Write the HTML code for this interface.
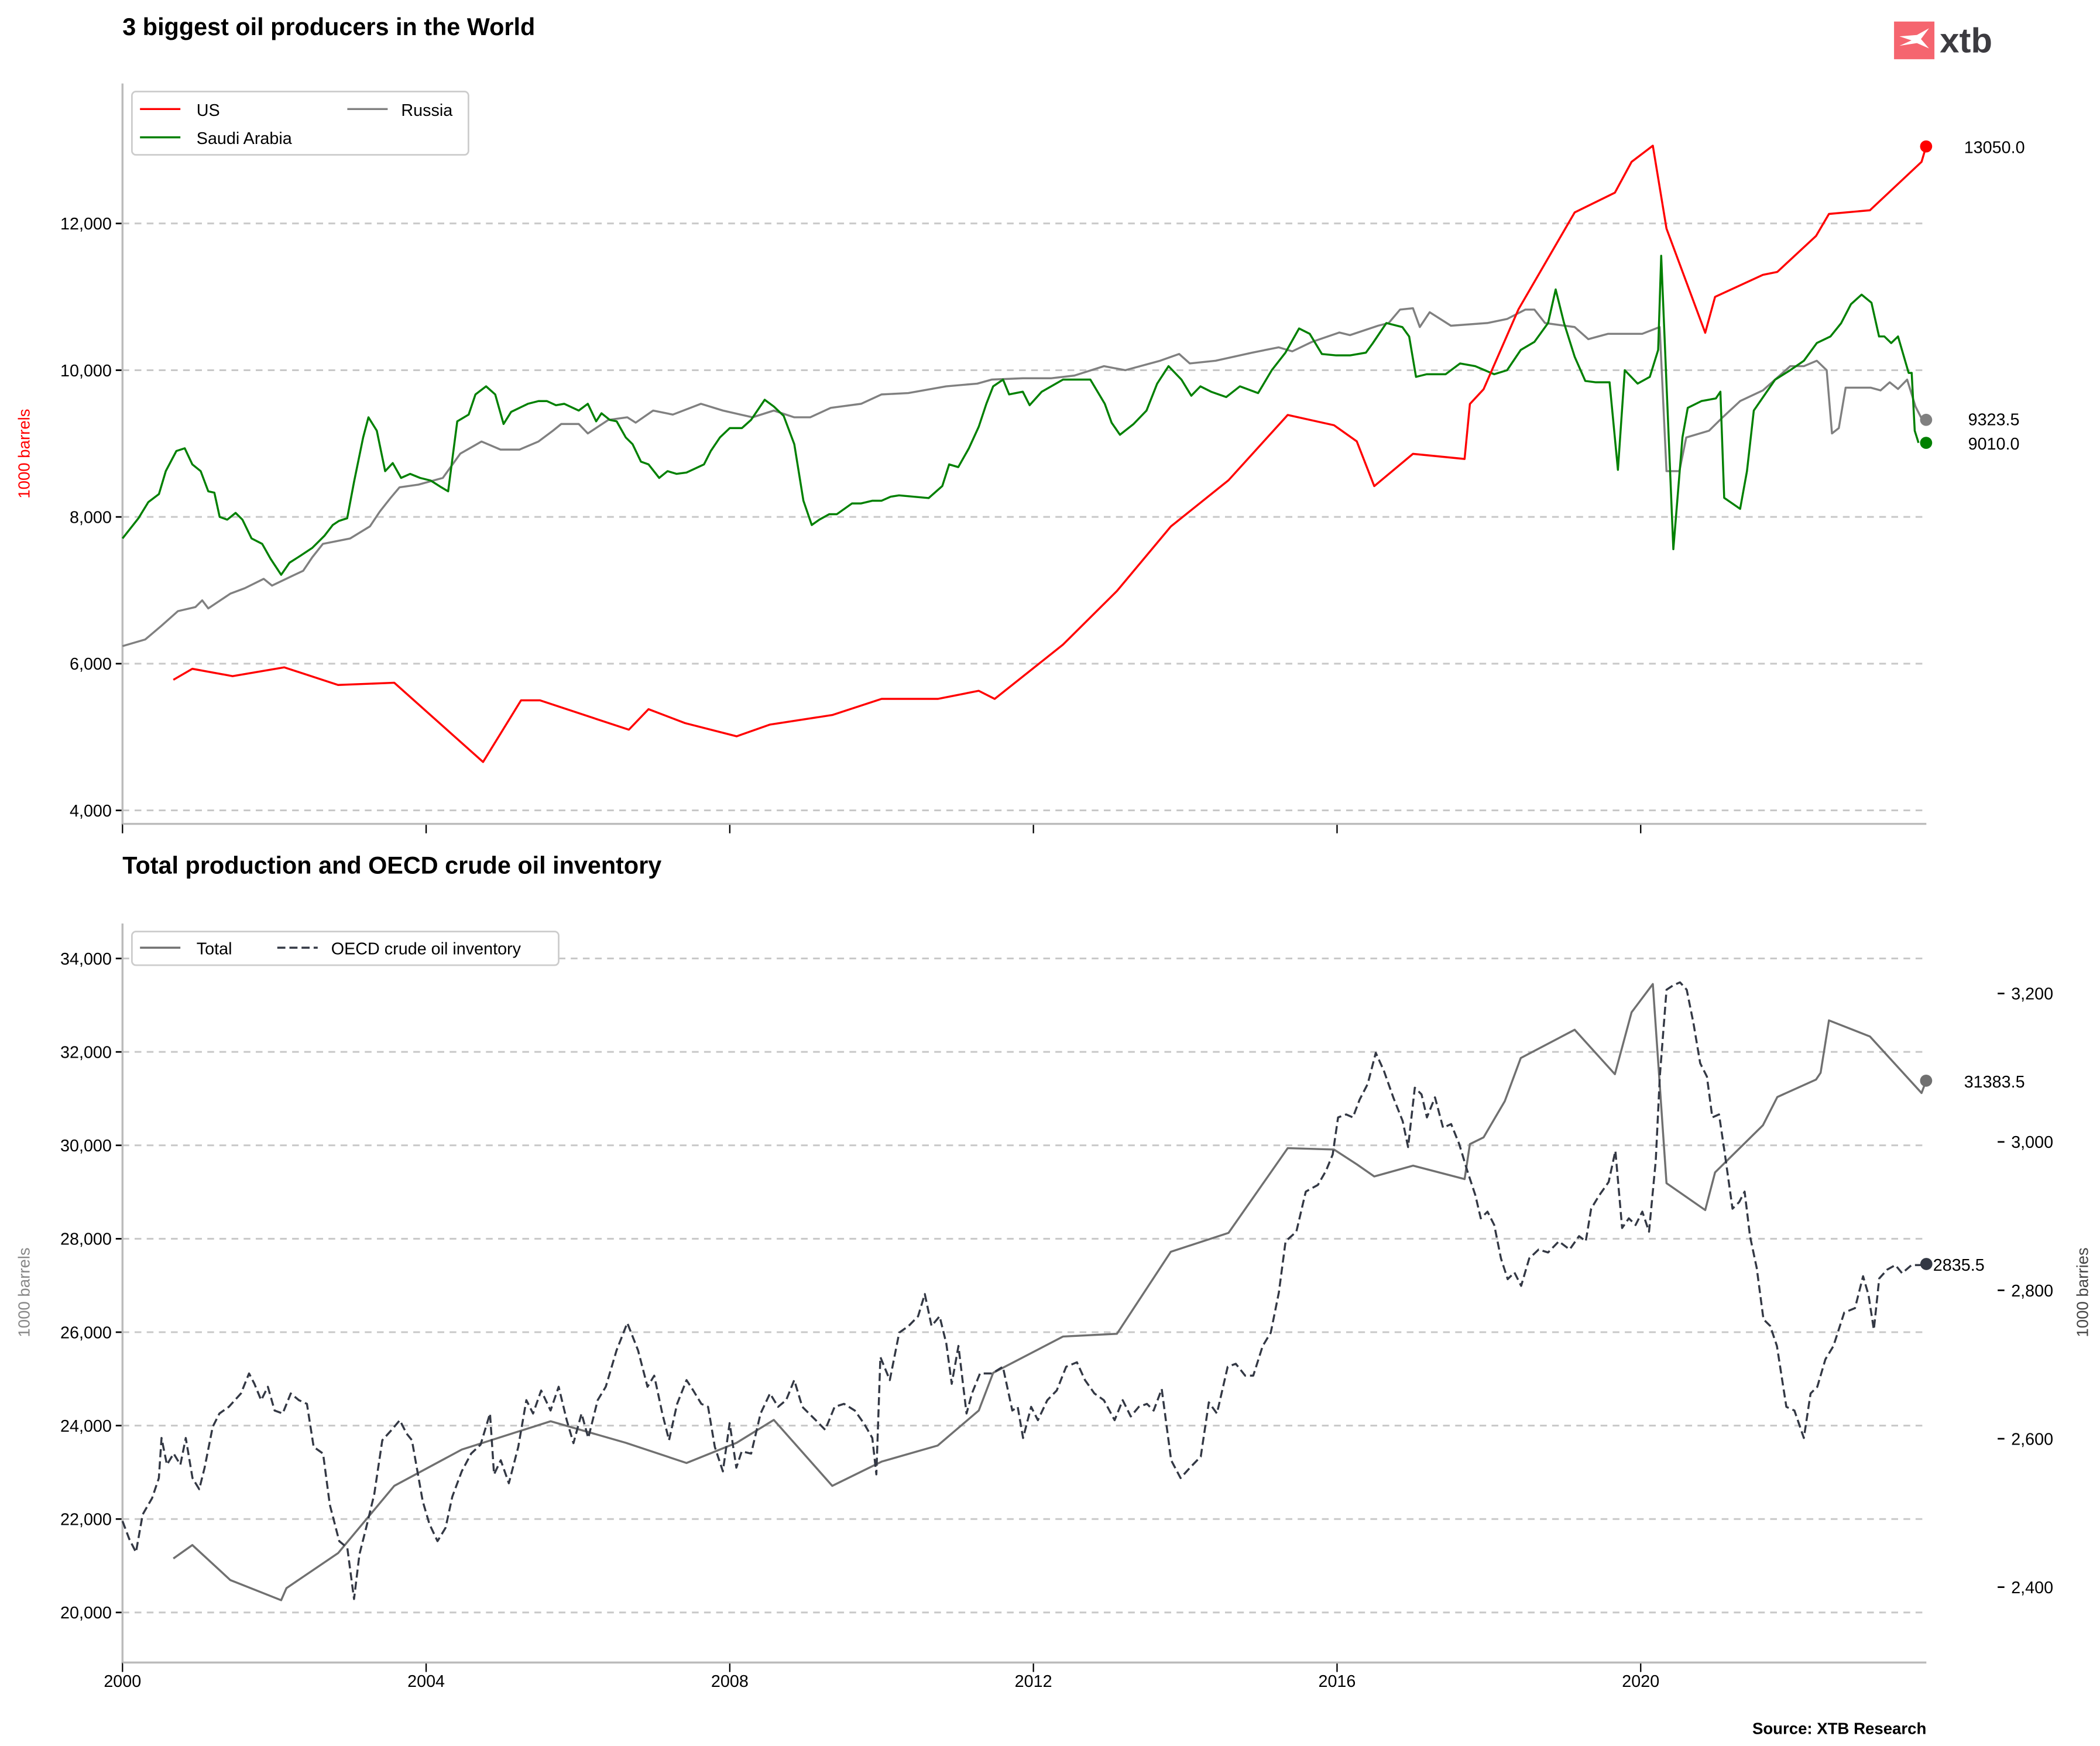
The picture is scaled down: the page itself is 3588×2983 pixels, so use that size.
<!DOCTYPE html>
<html><head><meta charset="utf-8"><style>
html,body{margin:0;padding:0;background:#fff;}
svg{display:block;font-family:"Liberation Sans",Arial,sans-serif;}
</style></head><body>
<svg id="chart" width="3588" height="2983" viewBox="0 0 1560 1297" preserveAspectRatio="none" xmlns="http://www.w3.org/2000/svg">
<text x="91" y="26" font-size="18" font-weight="bold" fill="#000">3 biggest oil producers in the World</text>
<text x="91" y="649" font-size="18" font-weight="bold" fill="#000">Total production and OECD crude oil inventory</text>
<g>
<rect x="1407" y="16" width="30" height="28" fill="#f5656f"/>
<path d="M1411 27 L1424 26 L1433 21 L1427 29 L1433 36 L1424 32 L1411 34 L1420 30 Z" fill="#fff"/>
<text x="1441" y="39" font-size="26" font-weight="bold" fill="#3c3b40">xtb</text>
</g>
<g id="topg"></g>
<g id="botg"></g>
<text transform="translate(22,337) rotate(-90)" text-anchor="middle" font-size="12" fill="#ff0000">1000 barrels</text>
<text transform="translate(22,960) rotate(-90)" text-anchor="middle" font-size="12" fill="#888">1000 barrels</text>
<text transform="translate(1551,960) rotate(-90)" text-anchor="middle" font-size="12" fill="#444">1000 barries</text>
<text x="1431" y="1288" text-anchor="end" font-size="12" font-weight="bold" fill="#000">Source: XTB Research</text>
<g>
<rect x="98" y="68" width="250" height="47" rx="3" fill="#fff" stroke="#ccc" stroke-width="1.2"/>
<line x1="104" y1="81" x2="134" y2="81" stroke="#ff0000" stroke-width="1.5"/><text x="146" y="86" font-size="12.5">US</text>
<line x1="258" y1="81" x2="288" y2="81" stroke="#808080" stroke-width="1.5"/><text x="298" y="86" font-size="12.5">Russia</text>
<line x1="104" y1="102" x2="134" y2="102" stroke="#008000" stroke-width="1.5"/><text x="146" y="107" font-size="12.5">Saudi Arabia</text>
</g>
<g>
<rect x="98" y="692" width="317" height="25" rx="3" fill="#fff" stroke="#ccc" stroke-width="1.2"/>
<line x1="104" y1="704" x2="134" y2="704" stroke="#707070" stroke-width="1.5"/><text x="146" y="709" font-size="12.5">Total</text>
<line x1="206" y1="704" x2="236" y2="704" stroke="#333844" stroke-width="1.5" stroke-dasharray="6,3"/><text x="246" y="709" font-size="12.5">OECD crude oil inventory</text>
</g>
</svg>
<script>
// ---- data ----
const usDates=[2000.67,2000.92,2001.45,2002.13,2002.84,2003.58,2004.75,2005.25,2005.5,2006.67,2006.93,2007.41,2008.09,2008.53,2009.35,2010.0,2010.74,2011.28,2011.49,2012.39,2013.1,2013.81,2014.57,2015.35,2015.96,2016.26,2016.49,2017.0,2017.68,2017.75,2017.93,2018.39,2019.13,2019.66,2019.88,2020.16,2020.34,2020.85,2020.98,2021.61,2021.8,2022.31,2022.48,2023.02,2023.7,2023.76];
const usValues=[5780,5930,5830,5950,5710,5740,4660,5500,5500,5100,5380,5190,5010,5170,5300,5520,5520,5630,5520,6260,6990,7870,8500,9390,9250,9030,8420,8860,8790,9540,9740,10830,12150,12420,12840,13060,11930,10510,11000,11300,11340,11830,12130,12180,12840,13050];
const saDates=[2000.00,2000.21,2000.34,2000.48,2000.57,2000.71,2000.82,2000.92,2001.03,2001.13,2001.21,2001.28,2001.38,2001.49,2001.58,2001.70,2001.84,2001.95,2002.09,2002.20,2002.34,2002.50,2002.66,2002.77,2002.85,2002.96,2003.05,2003.17,2003.24,2003.35,2003.46,2003.56,2003.67,2003.79,2003.92,2004.06,2004.20,2004.29,2004.41,2004.56,2004.65,2004.79,2004.91,2005.02,2005.12,2005.23,2005.34,2005.48,2005.59,2005.71,2005.82,2006.01,2006.13,2006.24,2006.31,2006.42,2006.51,2006.63,2006.72,2006.83,2006.93,2007.07,2007.18,2007.30,2007.43,2007.66,2007.75,2007.87,2008.00,2008.16,2008.28,2008.46,2008.58,2008.71,2008.85,2008.97,2009.08,2009.18,2009.31,2009.41,2009.61,2009.73,2009.88,2010.00,2010.12,2010.23,2010.62,2010.80,2010.89,2011.01,2011.15,2011.28,2011.38,2011.47,2011.60,2011.68,2011.86,2011.95,2012.11,2012.39,2012.75,2012.94,2013.03,2013.14,2013.32,2013.49,2013.63,2013.78,2013.95,2014.08,2014.20,2014.34,2014.54,2014.72,2014.96,2015.14,2015.32,2015.50,2015.64,2015.80,2015.99,2016.17,2016.38,2016.47,2016.65,2016.86,2016.95,2017.04,2017.18,2017.43,2017.62,2017.82,2018.07,2018.24,2018.42,2018.60,2018.78,2018.88,2018.99,2019.13,2019.27,2019.41,2019.59,2019.70,2019.79,2019.96,2020.12,2020.23,2020.27,2020.43,2020.55,2020.62,2020.80,2020.99,2021.05,2021.10,2021.31,2021.40,2021.49,2021.61,2021.77,2021.97,2022.15,2022.32,2022.50,2022.64,2022.77,2022.91,2023.04,2023.14,2023.21,2023.30,2023.39,2023.53,2023.57,2023.61,2023.66,2023.76];
const saValues=[7707,7982,8202,8312,8624,8899,8936,8716,8624,8349,8331,8000,7963,8055,7963,7707,7633,7431,7211,7376,7468,7578,7743,7890,7945,7982,8477,9083,9358,9175,8624,8734,8532,8587,8532,8496,8404,8349,9303,9395,9670,9780,9670,9267,9432,9487,9542,9579,9579,9523,9542,9450,9542,9303,9413,9322,9303,9083,8991,8753,8716,8532,8624,8587,8605,8716,8899,9083,9211,9211,9322,9597,9505,9377,8991,8221,7890,7963,8037,8037,8184,8184,8221,8221,8276,8294,8257,8422,8716,8679,8936,9230,9542,9780,9872,9670,9707,9523,9707,9872,9872,9542,9285,9120,9267,9450,9817,10055,9872,9652,9780,9707,9634,9780,9688,10000,10239,10569,10496,10221,10202,10202,10239,10367,10643,10588,10459,9909,9945,9945,10092,10055,9945,10000,10276,10386,10643,11101,10643,10184,9854,9835,9835,8642,10000,9817,9909,10276,11560,7560,9083,9487,9579,9615,9707,8260,8110,8624,9450,9630,9870,10000,10129,10370,10460,10640,10900,11030,10920,10460,10460,10370,10460,9963,9963,9175,9010];
const ruDates=[2000.00,2000.30,2000.51,2000.73,2000.96,2001.05,2001.13,2001.42,2001.61,2001.86,2001.97,2002.23,2002.38,2002.50,2002.64,2003.00,2003.26,2003.39,2003.53,2003.65,2003.90,2004.22,2004.45,2004.73,2004.98,2005.23,2005.48,2005.67,2005.78,2006.01,2006.13,2006.40,2006.65,2006.76,2006.99,2007.25,2007.62,2007.91,2008.30,2008.58,2008.85,2009.06,2009.33,2009.73,2010.00,2010.35,2010.85,2011.26,2011.45,2011.86,2012.23,2012.54,2012.93,2013.21,2013.67,2013.92,2014.06,2014.40,2014.88,2015.23,2015.41,2015.67,2016.03,2016.17,2016.54,2016.68,2016.83,2017.00,2017.09,2017.22,2017.50,2017.98,2018.24,2018.48,2018.60,2018.74,2019.13,2019.31,2019.57,2020.02,2020.25,2020.34,2020.51,2020.60,2020.90,2021.08,2021.31,2021.61,2021.97,2022.15,2022.32,2022.45,2022.52,2022.61,2022.70,2023.03,2023.16,2023.28,2023.39,2023.51,2023.62,2023.71,2023.76];
const ruValues=[6239,6330,6514,6716,6771,6863,6753,6954,7028,7156,7064,7193,7266,7450,7633,7707,7872,8074,8257,8404,8441,8532,8863,9028,8918,8918,9028,9175,9267,9267,9138,9322,9358,9285,9450,9395,9542,9450,9358,9450,9358,9358,9487,9542,9670,9688,9780,9817,9872,9890,9890,9927,10055,10000,10129,10221,10092,10129,10239,10312,10257,10386,10514,10478,10606,10643,10826,10845,10588,10790,10606,10643,10698,10826,10826,10643,10588,10423,10496,10496,10588,8624,8624,9083,9175,9358,9579,9725,10055,10055,10129,10000,9138,9211,9762,9762,9725,9835,9744,9872,9505,9322,9323.5];
const totDates=[2000.67,2000.92,2001.42,2002.09,2002.16,2002.84,2003.58,2004.47,2005.64,2006.63,2007.43,2008.09,2008.58,2009.35,2010.00,2010.74,2011.28,2011.47,2012.39,2013.10,2013.81,2014.57,2015.35,2015.96,2016.26,2016.49,2017.00,2017.68,2017.75,2017.93,2018.21,2018.42,2019.13,2019.66,2019.88,2020.16,2020.34,2020.85,2020.98,2021.61,2021.80,2022.31,2022.37,2022.48,2023.02,2023.70,2023.76];
const totValues=[21155,21443,20694,20262,20521,21270,22710,23488,24093,23632,23200,23632,24122,22710,23229,23574,24323,25130,25907,25965,27722,28125,29940,29910,29594,29334,29565,29277,30026,30170,30947,31869,32474,31523,32848,33453,29190,28614,29421,30429,31034,31408,31552,32675,32330,31120,31383.5];
const oecdX=[91,96,101,106,113,118,120,124,129,134,138,143,148,152,158,163,170,179,185,189,194,199,204,210,216,222,228,233,240,245,252,258,263,267,272,278,284,291,297,302,306,314,319,325,331,336,343,350,357,364,367,372,378,385,391,396,402,409,415,421,426,432,437,444,450,458,466,474,481,486,492,497,503,510,515,521,526,531,537,542,547,551,558,565,572,578,584,590,596,601,606,613,620,627,635,642,648,651,654,661,668,675,682,687,692,698,703,707,712,718,722,728,737,745,752,756,760,766,771,778,785,792,800,806,813,820,828,834,840,846,852,857,863,870,877,884,892,898,904,912,918,925,931,938,944,950,955,963,970,979,985,990,994,1000,1005,1010,1016,1022,1028,1035,1042,1046,1051,1056,1060,1066,1072,1078,1084,1090,1096,1100,1105,1110,1115,1120,1125,1130,1136,1143,1150,1158,1166,1173,1178,1182,1188,1195,1200,1205,1210,1215,1220,1225,1230,1233,1238,1243,1248,1253,1258,1263,1268,1272,1277,1281,1287,1292,1296,1300,1305,1310,1315,1320,1327,1333,1340,1345,1350,1356,1362,1370,1378,1384,1388,1392,1396,1402,1408,1413,1420,1426,1431];
const oecdValues=[2489,2465,2447,2498,2520,2547,2601,2565,2580,2565,2601,2547,2532,2561,2616,2634,2643,2661,2688,2674,2652,2670,2638,2634,2661,2652,2647,2589,2580,2511,2462,2453,2384,2444,2480,2525,2598,2612,2625,2607,2598,2516,2485,2462,2480,2522,2556,2580,2592,2634,2552,2571,2540,2589,2652,2634,2665,2638,2670,2625,2594,2634,2601,2652,2670,2719,2756,2719,2670,2685,2634,2598,2647,2679,2665,2647,2643,2589,2556,2621,2561,2583,2580,2634,2661,2643,2652,2679,2643,2634,2625,2612,2643,2647,2638,2620,2601,2552,2710,2679,2743,2752,2765,2795,2752,2765,2728,2674,2725,2634,2661,2688,2688,2697,2638,2643,2601,2643,2625,2652,2665,2697,2703,2679,2661,2652,2625,2652,2630,2643,2647,2638,2667,2571,2547,2561,2576,2649,2634,2697,2701,2685,2685,2725,2743,2797,2866,2879,2933,2942,2961,2983,3033,3037,3033,3057,3078,3120,3096,3060,3028,2993,3073,3064,3033,3060,3019,3024,2997,2961,2928,2897,2906,2888,2843,2815,2824,2806,2843,2855,2851,2866,2855,2873,2866,2910,2928,2946,2988,2884,2897,2888,2906,2879,2975,3088,3205,3211,3215,3205,3160,3106,3088,3033,3037,2988,2910,2919,2933,2873,2830,2761,2752,2725,2643,2638,2601,2661,2670,2707,2725,2770,2776,2819,2794,2747,2816,2828,2834,2823,2834,2834,2835.5];
const xTickYears=[2000,2004,2008,2012,2016,2020];
const topYTicks=[4000,6000,8000,10000,12000];
const botYTicks=[20000,22000,24000,26000,28000,30000,32000,34000];
const rightYTicks=[2400,2600,2800,3000,3200];

// ---- scales ----
const NS='http://www.w3.org/2000/svg';
const X0=91,X1=1431;
const xS=y=>91+(y-2000)*56.39;
const oecdDate=px=>2000+(px-91)/56.39;
const yTop=v=>602-(v-4000)*0.0545;
const yBL=v=>712+(34000-v)*0.0347;
const yBR=v=>738+(3200-v)*0.55125;
const fmt=v=>v.toLocaleString('en-US');
function mk(tag,attrs,parent){const e=document.createElementNS(NS,tag);for(const k in attrs)e.setAttribute(k,attrs[k]);parent.appendChild(e);return e;}
const gTop=document.getElementById('topg'),gBot=document.getElementById('botg');

topYTicks.forEach(v=>{const y=yTop(v);
 const g=mk('line',{x1:X0,x2:X1,y1:y,y2:y,stroke:'#c8c8c8','stroke-width':1.3,'stroke-dasharray':'5,4'},gTop);
 
 
 mk('line',{x1:86,x2:91,y1:y,y2:y,stroke:'#000','stroke-width':1.2},gTop);
 const t=mk('text',{x:83,y:y+4.5,'text-anchor':'end','font-size':12.5},gTop);t.textContent=fmt(v);
 
 });
botYTicks.forEach(v=>{const y=yBL(v);
 const g=mk('line',{x1:X0,x2:X1,y1:y,y2:y,stroke:'#c8c8c8','stroke-width':1.3,'stroke-dasharray':'5,4'},gBot);
 
 
 mk('line',{x1:86,x2:91,y1:y,y2:y,stroke:'#000','stroke-width':1.2},gBot);
 const t=mk('text',{x:83,y:y+4.5,'text-anchor':'end','font-size':12.5},gBot);t.textContent=fmt(v);
 
 });
rightYTicks.forEach(v=>{const y=yBR(v);
 mk('line',{x1:1484,x2:1489,y1:y,y2:y,stroke:'#000','stroke-width':1.2},gBot);
 const t=mk('text',{x:1494,y:y+4.5,'font-size':12.5},gBot);t.textContent=fmt(v);
 
 });
xTickYears.forEach(yr=>{const x=xS(yr);
 mk('line',{x1:x,x2:x,y1:612,y2:619,stroke:'#000','stroke-width':1},gTop);
 mk('line',{x1:x,x2:x,y1:1235,y2:1242,stroke:'#000','stroke-width':1},gBot);
 const t=mk('text',{x:x,y:1253,'text-anchor':'middle','font-size':12.5},gBot);t.textContent=yr;
 
 });
[[91,62,91,612],[91,612,1431,612]].forEach(s=>mk('line',{x1:s[0],y1:s[1],x2:s[2],y2:s[3],stroke:'#bbb','stroke-width':1.5},gTop));
[[91,686,91,1235],[91,1235,1431,1235]].forEach(s=>mk('line',{x1:s[0],y1:s[1],x2:s[2],y2:s[3],stroke:'#bbb','stroke-width':1.5},gBot));

function line(parent,xs,ys,ysc,color,w,dash,name){
 const d=xs.map((x,i)=>(i?'L':'M')+xS(x).toFixed(2)+' '+ysc(ys[i]).toFixed(2)).join(' ');
 const p=mk('path',{d:d,fill:'none',stroke:color,'stroke-width':w,'stroke-linejoin':'round'},parent);
 if(dash)p.setAttribute('stroke-dasharray',dash);
 
 
 const lx=xs[xs.length-1],lv=ys[ys.length-1];
 const c=mk('circle',{cx:xS(lx),cy:ysc(lv),r:4.5,fill:color},parent);
 
 
 return [xS(lx),ysc(lv),lv,parent];
}
const ru=line(gTop,ruDates,ruValues,yTop,'#808080',1.5,null,'russia-line');
const sa=line(gTop,saDates,saValues,yTop,'#008000',1.5,null,'saudi-arabia-line');
const us=line(gTop,usDates,usValues,yTop,'#ff0000',1.5,null,'us-line');
const tot=line(gBot,totDates,totValues,yBL,'#707070',1.5,null,'total-line');
const oe=line(gBot,oecdX.map(oecdDate),oecdValues,yBR,'#333844',1.5,'6,3','oecd-inventory-line');
function endLabel(p,x,dy,name){const t=mk('text',{x:x,y:p[1]+dy,'font-size':12.5},p[3]);t.textContent=p[2].toFixed(1);
 
 }
endLabel(us,1459,5,'us-end-label');
endLabel(ru,1462,4,'russia-end-label');
endLabel(sa,1462,5,'saudi-arabia-end-label');
endLabel(tot,1459,5,'total-end-label');
endLabel(oe,1436,5,'oecd-end-label');
</script>
</body></html>
